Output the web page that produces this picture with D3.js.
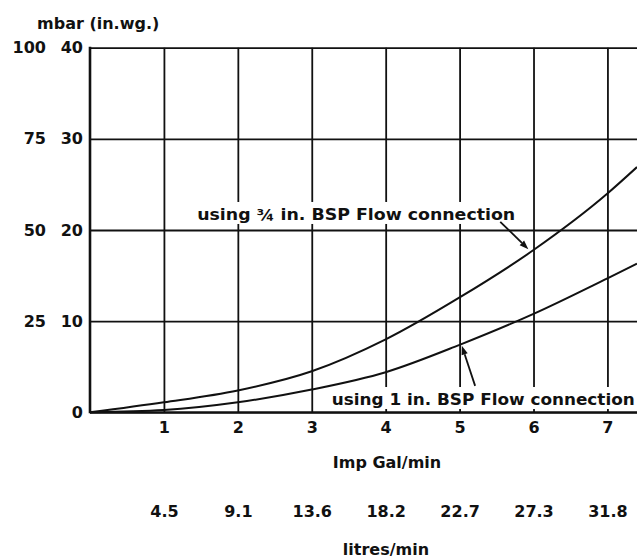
<!DOCTYPE html>
<html>
<head>
<meta charset="utf-8">
<script src="https://cdn.jsdelivr.net/npm/d3@7"></script>
<style>
  html, body { margin: 0; padding: 0; background: #fff; }
  svg { display: block; }
  text { font-family: "DejaVu Sans", Verdana, sans-serif; font-weight: bold; fill: #111; }
</style>
</head>
<body>
<svg id="chart" width="637" height="559"></svg>
<script>
// ---- data ----
const flowGal = [0, 1, 2, 3, 4, 5, 6, 7, 7.4];                 // Imp Gal/min
const pressure34 = [0, 1.1, 2.4, 4.5, 8.0, 12.6, 17.8, 24.0, 26.9];   // in.wg, 3/4 in. BSP
const pressure1 = [0, 0.25, 1.1, 2.5, 4.4, 7.4, 10.8, 14.7, 16.3];    // in.wg, 1 in. BSP
const galTicks = [1, 2, 3, 4, 5, 6, 7];
const litreLabels = ["4.5", "9.1", "13.6", "18.2", "22.7", "27.3", "31.8"];
const inwgTicks = [0, 10, 20, 30, 40];
const mbarLabels = ["", "25", "50", "75", "100"];
const label34 = "using \u00BE in.  BSP Flow connection";
const label1 = "using 1 in. BSP Flow connection";

// ---- layout ----
const svg = d3.select("#chart");
const x = d3.scaleLinear().domain([0, 7.4]).range([90, 637]);
const y = d3.scaleLinear().domain([0, 40]).range([412.3, 47.7]);
const ink = "#111";
const fs = 16;

// grid: vertical lines
const vGrid = svg.append("g").attr("transform", `translate(0,${y(0)})`)
  .call(d3.axisBottom(x).tickValues(galTicks).tickSize(-(y(0) - y(40))).tickFormat(""));
vGrid.select(".domain").remove();
vGrid.selectAll("line").attr("stroke", ink).attr("stroke-width", 1.8);

// grid: horizontal lines
const hGrid = svg.append("g").attr("transform", `translate(${x(0)},0)`)
  .call(d3.axisLeft(y).tickValues(inwgTicks).tickSize(-(x(7.4) - x(0))).tickFormat(""));
hGrid.select(".domain").remove();
hGrid.selectAll("line").attr("stroke", ink).attr("stroke-width", 1.8);

// left axis line
svg.append("line").attr("x1", x(0)).attr("x2", x(0)).attr("y1", y(40) - 1).attr("y2", y(0) + 1)
  .attr("stroke", ink).attr("stroke-width", 2.6);

// label backgrounds (white boxes interrupting grid)
function labelBox(xStart, yBase, width) {
  svg.append("rect").attr("x", x(xStart) - 4).attr("y", y(yBase) - 18)
    .attr("width", width + 8).attr("height", 22).attr("fill", "#fff");
}
labelBox(1.45, 21.1, 320);
labelBox(3.27, 0.8, 306);

// curves
const line = d3.line().x(d => x(d[0])).y(d => y(d[1])).curve(d3.curveMonotoneX);
svg.append("path").datum(flowGal.map((g, i) => [g, pressure34[i]]))
  .attr("d", line).attr("fill", "none").attr("stroke", ink).attr("stroke-width", 2);
svg.append("path").datum(flowGal.map((g, i) => [g, pressure1[i]]))
  .attr("d", line).attr("fill", "none").attr("stroke", ink).attr("stroke-width", 2);

// restore baseline on top of label box
svg.append("line").attr("x1", x(0)).attr("x2", x(7.4)).attr("y1", y(0)).attr("y2", y(0))
  .attr("stroke", ink).attr("stroke-width", 2);

// labels
svg.append("text").attr("x", x(1.45)).attr("y", y(21.1)).attr("font-size", fs)
  .attr("textLength", 318).attr("lengthAdjust", "spacingAndGlyphs").text(label34);
svg.append("text").attr("x", x(3.27)).attr("y", y(0.8)).attr("font-size", fs)
  .attr("textLength", 303).attr("lengthAdjust", "spacingAndGlyphs").text(label1);

// arrows
function arrow(x0, y0, x1, y1) {
  const X0 = x(x0), Y0 = y(y0), X1 = x(x1), Y1 = y(y1);
  const ang = Math.atan2(Y1 - Y0, X1 - X0);
  const len = 9, wid = 3.2;
  const bx = X1 - len * Math.cos(ang), by = Y1 - len * Math.sin(ang);
  svg.append("line").attr("x1", X0).attr("y1", Y0).attr("x2", bx).attr("y2", by)
    .attr("stroke", ink).attr("stroke-width", 1.8);
  const px = -Math.sin(ang) * wid, py = Math.cos(ang) * wid;
  svg.append("path").attr("d", `M${X1},${Y1}L${bx + px},${by + py}L${bx - px},${by - py}Z`).attr("fill", ink);
}
arrow(5.55, 20.9, 5.93, 17.9);
arrow(5.21, 2.9, 5.03, 7.3);

function styleAxis(g, size) {
  g.select(".domain").remove();
  g.attr("font-family", null);
  g.selectAll("text").attr("font-size", size).attr("fill", ink);
}

// y tick labels (in.wg column and mbar column)
const yAx = svg.append("g").attr("transform", `translate(83,0)`)
  .call(d3.axisLeft(y).tickValues(inwgTicks).tickSize(0).tickPadding(0).tickFormat(d3.format("d")));
styleAxis(yAx, fs);

const mAx = svg.append("g").attr("transform", `translate(46,0)`)
  .call(d3.axisLeft(y).tickValues(inwgTicks).tickSize(0).tickPadding(0)
    .tickFormat((d, i) => mbarLabels[i]));
styleAxis(mAx, fs);

// x tick labels (gal/min)
const xAx = svg.append("g").attr("transform", `translate(0,422)`)
  .call(d3.axisBottom(x).tickValues(galTicks).tickSize(0).tickPadding(0).tickFormat(d3.format("d")));
styleAxis(xAx, fs);

// litres/min labels
const lAx = svg.append("g").attr("transform", `translate(0,506)`)
  .call(d3.axisBottom(x).tickValues(galTicks).tickSize(0).tickPadding(0)
    .tickFormat((d, i) => litreLabels[i]));
styleAxis(lAx, fs);

// axis titles
svg.append("text").attr("x", 37).attr("y", 29).attr("font-size", fs).text("mbar (in.wg.)");
svg.append("text").attr("x", 387).attr("y", 468).attr("font-size", fs).attr("text-anchor", "middle").text("Imp Gal/min");
svg.append("text").attr("x", 386).attr("y", 555).attr("font-size", fs).attr("text-anchor", "middle").text("litres/min");
</script>
</body>
</html>
